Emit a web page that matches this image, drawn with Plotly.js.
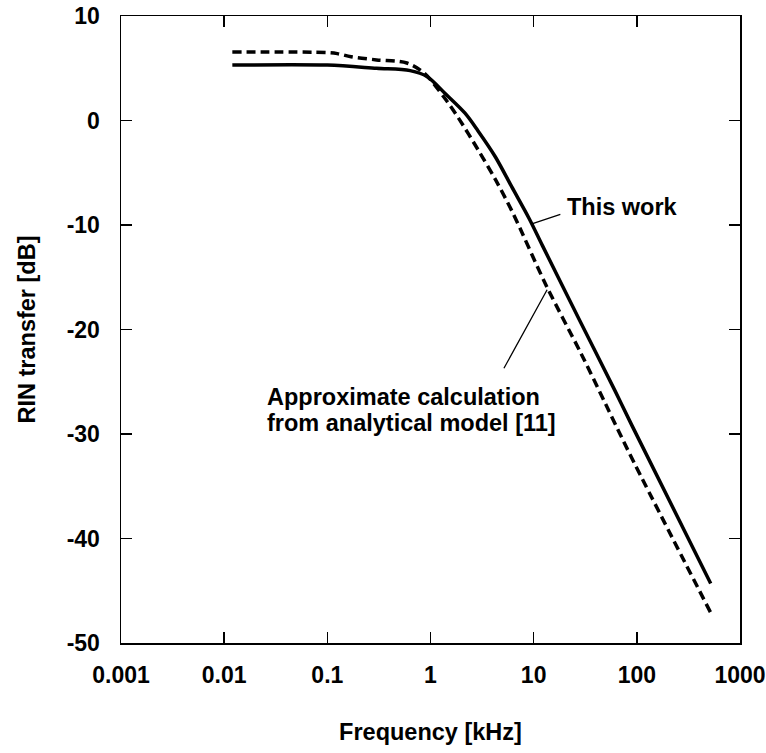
<!DOCTYPE html>
<html>
<head>
<meta charset="utf-8">
<script src="https://cdn.plot.ly/plotly-3.0.1.min.js"></script>
<style>html,body{margin:0;padding:0;background:#fff;}#chart{width:766px;height:753px;}</style>
</head>
<body>
<div id="chart"></div>
<script>
// Frequency [kHz] and RIN transfer [dB]
const freqThisWork = [0.012, 0.1, 0.3, 0.635, 0.93, 1.37, 2.15, 2.89, 4.26, 6.14, 9.06, 12.2, 28.5, 61, 89.8, 520];
const rinThisWork  = [5.3, 5.3, 5.0, 4.77, 4.19, 2.63, 0.72, -1.0, -3.49, -6.36, -9.4, -12.0, -19.3, -25.8, -29.2, -44.3];

const freqModel = [0.012, 0.1, 0.125, 0.17, 0.3, 0.59, 0.865, 1.37, 1.84, 2.9, 4.28, 6.18, 13.4, 28.8, 49.1, 84.3, 520];
const rinModel  = [6.55, 6.5, 6.4, 6.1, 5.8, 5.5, 4.55, 2.15, 0.33, -2.82, -5.69, -8.7, -15.9, -22.3, -27.0, -31.8, -47.1];

const xTickVals = [0.001, 0.01, 0.1, 1, 10, 100, 1000];
const xTickText = ["0.001", "0.01", "0.1", "1", "10", "100", "1000"];
const yTickVals = [10, 0, -10, -20, -30, -40, -50];
const yTickText = ["10", "0", "-10", "-20", "-30", "-40", "-50"];

const labelThisWork = "This work";
const labelModel1 = "Approximate calculation";
const labelModel2 = "from analytical model [11]";

const F = {family: "Liberation Sans, Arial, sans-serif", size: 23, color: "#000", weight: "bold"};
const FA = {family: "Liberation Sans, Arial, sans-serif", size: 23.5, color: "#000", weight: "bold"};

const traces = [
  {x: freqModel, y: rinModel, mode: "lines", type: "scatter",
   line: {color: "#000", width: 3.5, dash: "9px,5px", shape: "spline", smoothing: 0.9}, hoverinfo: "skip"},
  {x: freqThisWork, y: rinThisWork, mode: "lines", type: "scatter",
   line: {color: "#000", width: 3.5, shape: "spline", smoothing: 0.9}, hoverinfo: "skip"}
];

const layout = {
  width: 766, height: 753,
  paper_bgcolor: "#fff", plot_bgcolor: "#fff",
  showlegend: false,
  margin: {l: 121, r: 26, t: 16, b: 110},
  xaxis: {
    type: "log", range: [-3, 3],
    tickmode: "array", tickvals: xTickVals, ticktext: xTickText,
    ticks: "inside", ticklen: 11, tickwidth: 1.5, tickcolor: "#000",
    showline: true, linecolor: "#000", linewidth: 1.5, mirror: "allticks",
    showgrid: false, zeroline: false,
    tickfont: F, ticklabelstandoff: 11,
    title: {text: "Frequency [kHz]", font: FA, standoff: 36}
  },
  yaxis: {
    range: [-50, 10],
    tickmode: "array", tickvals: yTickVals, ticktext: yTickText,
    ticks: "inside", ticklen: 11, tickwidth: 1.5, tickcolor: "#000",
    showline: true, linecolor: "#000", linewidth: 1.5, mirror: "allticks",
    showgrid: false, zeroline: false,
    tickfont: F, ticklabelstandoff: 15,
    title: {text: "RIN transfer [dB]", font: FA, standoff: 24}
  },
  annotations: [
    {xref: "paper", yref: "paper", x: 0.717, y: 0.695, xanchor: "left", yanchor: "middle",
     text: labelThisWork, showarrow: false, font: FA},
    {xref: "paper", yref: "paper", x: 0.232, y: 0.392, xanchor: "left", yanchor: "middle",
     text: labelModel1, showarrow: false, font: FA},
    {xref: "paper", yref: "paper", x: 0.232, y: 0.351, xanchor: "left", yanchor: "middle",
     text: labelModel2, showarrow: false, font: FA},
    {xref: "x", yref: "y", x: Math.log10(9.6), y: -9.9, text: "", showarrow: true,
     arrowhead: 0, arrowwidth: 1.3, arrowcolor: "#000", ax: 30, ay: -10, standoff: 0},
    {xref: "x", yref: "y", x: Math.log10(13.5), y: -16.2, text: "", showarrow: true,
     arrowhead: 0, arrowwidth: 1.3, arrowcolor: "#000", ax: -44, ay: 80, standoff: 0}
  ]
};

Plotly.newPlot("chart", traces, layout, {staticPlot: true, displayModeBar: false});
</script>
</body>
</html>
